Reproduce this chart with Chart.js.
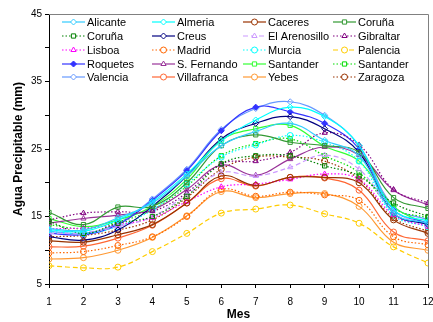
<!DOCTYPE html>
<html>
<head>
<meta charset="utf-8">
<script src="https://cdn.jsdelivr.net/npm/chart.js@4"></script>
<style>
  html, body { margin: 0; padding: 0; background: #fff; }
  #wrap { width: 433px; height: 322px; position: relative; }
</style>
</head>
<body>
<div id="wrap"><canvas id="chart" width="433" height="322"></canvas></div>
<script>
// Months on the x axis
const months = [1, 2, 3, 4, 5, 6, 7, 8, 9, 10, 11, 12];
const yTicks = [5, 15, 25, 35, 45];

// Precipitable water (mm) per station
const alicante     = [13.2, 13.0, 14.8, 17.0, 21.0, 25.5, 27.6, 28.8, 26.3, 24.0, 15.5, 14.0];
const almeria      = [13.0, 12.8, 14.5, 17.2, 21.3, 26.2, 29.3, 31.2, 29.8, 25.5, 16.0, 14.3];
const caceres      = [11.4, 11.2, 12.3, 13.8, 17.0, 21.0, 19.6, 20.8, 20.8, 20.0, 14.5, 12.5];
const coruna       = [15.6, 13.8, 16.4, 16.5, 20.0, 25.5, 27.1, 26.0, 25.5, 24.5, 17.8, 16.2];
const corunaDot    = [14.3, 12.5, 14.0, 15.0, 18.0, 22.8, 24.0, 24.0, 22.5, 21.0, 17.0, 15.0];
const creus        = [12.0, 11.5, 13.0, 16.5, 21.0, 26.5, 28.8, 29.8, 28.0, 24.5, 15.5, 13.8];
const elArenosillo = [12.5, 12.6, 13.5, 15.0, 18.2, 21.5, 21.0, 22.3, 24.1, 22.0, 15.8, 13.8];
const gibraltar    = [14.5, 15.5, 15.7, 15.8, 18.5, 22.8, 23.2, 24.5, 27.4, 25.6, 19.0, 17.0];
const lisboa       = [13.2, 13.3, 13.8, 14.8, 17.2, 19.4, 19.8, 20.5, 21.3, 20.5, 15.2, 13.5];
const madrid       = [9.6, 9.8, 10.7, 12.0, 15.0, 19.0, 18.0, 18.6, 18.2, 17.4, 12.0, 10.8];
const murcia       = [12.8, 12.5, 13.5, 16.0, 19.8, 23.8, 25.6, 27.0, 26.0, 23.2, 15.2, 13.5];
const palencia     = [7.7, 7.4, 7.5, 9.8, 12.5, 15.5, 16.1, 16.7, 15.4, 14.0, 10.5, 8.1];
const roquetes     = [12.5, 12.3, 13.8, 17.4, 21.8, 27.7, 31.2, 30.5, 28.8, 25.0, 16.0, 14.0];
const sFernando    = [14.0, 14.7, 15.2, 16.0, 19.0, 22.6, 21.1, 23.5, 25.3, 24.1, 18.9, 16.7];
const santander    = [14.7, 13.5, 14.5, 16.5, 20.5, 26.3, 28.0, 28.5, 25.4, 23.2, 16.5, 13.8];
const santanderDot = [13.8, 13.2, 14.2, 16.0, 19.5, 24.0, 25.8, 26.5, 24.0, 21.5, 16.2, 14.8];
const valencia     = [12.8, 12.5, 14.0, 17.6, 22.0, 27.9, 31.0, 32.0, 30.0, 25.5, 16.5, 14.5];
const villafranca  = [10.5, 10.6, 11.8, 13.7, 17.0, 20.6, 19.5, 20.8, 20.7, 18.9, 12.7, 11.4];
const yebes        = [8.7, 8.9, 10.0, 11.9, 15.1, 18.7, 17.8, 18.4, 18.4, 16.5, 11.2, 10.0];
const zaragoza     = [12.0, 12.2, 13.0, 14.5, 17.8, 22.0, 23.8, 23.8, 23.2, 20.5, 14.8, 12.8];

const SOLID = [], DOT = [1.5, 2], DASH = [5, 3];

// label, values, colour, dash, marker, filled marker
const series = [
  ['Alicante', alicante, '#33CCFF', SOLID, 'rectRot', false],
  ['Almeria', almeria, '#00FFFF', SOLID, 'rectRot', false],
  ['Caceres', caceres, '#993300', SOLID, 'circle', false],
  ['Coruña', coruna, '#339933', SOLID, 'rect', false],
  ['Coruña', corunaDot, '#008000', DOT, 'rect', false],
  ['Creus', creus, '#000080', SOLID, 'rectRot', false],
  ['El Arenosillo', elArenosillo, '#CC99FF', DASH, 'triangle', false],
  ['Gibraltar', gibraltar, '#800080', DOT, 'triangle', false],
  ['Lisboa', lisboa, '#FF00FF', DOT, 'triangle', false],
  ['Madrid', madrid, '#FF6600', DOT, 'circle', false],
  ['Murcia', murcia, '#00FFFF', DOT, 'circle', false],
  ['Palencia', palencia, '#FFCC00', DASH, 'circle', false],
  ['Roquetes', roquetes, '#3333FF', SOLID, 'rectRot', true],
  ['S. Fernando', sFernando, '#993399', SOLID, 'triangle', false],
  ['Santander', santander, '#33FF33', SOLID, 'rect', false],
  ['Santander', santanderDot, '#00DD00', DOT, 'rect', false],
  ['Valencia', valencia, '#6699FF', SOLID, 'rectRot', false],
  ['Villafranca', villafranca, '#FF6633', SOLID, 'circle', false],
  ['Yebes', yebes, '#FF9933', SOLID, 'circle', false],
  ['Zaragoza', zaragoza, '#993300', DOT, 'circle', false]
];

const datasets = series.map(([label, vals, color, dash, marker, filled]) => ({
  label,
  data: vals.map((v, i) => ({ x: months[i], y: v })),
  borderColor: color,
  backgroundColor: color,
  borderWidth: 1.2,
  borderDash: dash,
  tension: 0.4,
  pointStyle: marker,
  pointRadius: 3,
  pointBorderWidth: 1,
  pointBackgroundColor: filled ? color : 'rgba(255,255,255,0)',
  pointBorderColor: color
}));

// Legend drawn inside the plot area, 4 columns
const insideLegend = {
  id: 'insideLegend',
  afterDatasetsDraw(chart) {
    const ctx = chart.ctx;
    const colX = [62, 152, 243, 333];
    const rowY = [22, 36, 50, 64, 77];
    ctx.save();
    ctx.font = '11px "Liberation Sans", Arial, sans-serif';
    ctx.textBaseline = 'middle';
    ctx.fillStyle = '#000';
    series.forEach(([label, , color, dash, marker, filled], i) => {
      const x = colX[i % 4], y = rowY[Math.floor(i / 4)];
      ctx.strokeStyle = color;
      ctx.lineWidth = 1.2;
      ctx.setLineDash(dash);
      ctx.beginPath();
      ctx.moveTo(x, y);
      ctx.lineTo(x + 23, y);
      ctx.stroke();
      ctx.setLineDash([]);
      ctx.lineWidth = 1;
      ctx.fillStyle = filled ? color : '#fff';
      Chart.helpers.drawPoint(ctx, { pointStyle: marker, radius: 3, rotation: 0, borderWidth: 1 }, x + 11.5, y);
      ctx.fillStyle = '#000';
      ctx.fillText(label, x + 25, y + 0.5);
    });
    ctx.restore();
  },
  afterDraw(chart) {
    const { left, right, top, bottom } = chart.chartArea;
    const ctx = chart.ctx;
    ctx.save();
    ctx.strokeStyle = '#808080';
    ctx.lineWidth = 1;
    ctx.beginPath();
    ctx.moveTo(left, top + 0.5);
    ctx.lineTo(right + 0.5, top + 0.5);
    ctx.lineTo(right + 0.5, bottom);
    ctx.stroke();
    ctx.restore();
  }
};

new Chart(document.getElementById('chart'), {
  type: 'line',
  data: { datasets },
  plugins: [insideLegend],
  options: {
    responsive: false,
    animation: false,
    layout: { padding: { top: 14, right: 5, left: 0, bottom: 0 } },
    plugins: { legend: { display: false }, tooltip: { enabled: false } },
    scales: {
      x: {
        type: 'linear',
        min: 1, max: 12,
        afterFit: s => { s.height = 38; s.paddingLeft = 0; s.paddingRight = 0; },
        ticks: { stepSize: 1, color: '#000', padding: 8,
                 font: { family: '"Liberation Sans", Arial, sans-serif', size: 10 } },
        grid: { drawOnChartArea: false, color: '#000', tickLength: 4 },
        border: { color: '#000', width: 1 },
        title: { display: true, text: 'Mes', color: '#000', padding: { top: 0, bottom: 0 },
                 font: { family: '"Liberation Sans", Arial, sans-serif', size: 12, weight: 'bold' } }
      },
      y: {
        min: 5, max: 45,
        afterFit: s => { s.width = 49; },
        ticks: { stepSize: 5, color: '#000', padding: 3,
                 callback: v => yTicks.includes(v) ? v : '',
                 font: { family: '"Liberation Sans", Arial, sans-serif', size: 10 } },
        grid: { drawOnChartArea: false, color: '#000', tickLength: 4 },
        border: { color: '#000', width: 1 },
        title: { display: true, text: 'Agua Precipitable (mm)', color: '#000', padding: { top: 11, bottom: 0 },
                 font: { family: '"Liberation Sans", Arial, sans-serif', size: 12, weight: 'bold' } }
      }
    }
  }
});
</script>
</body>
</html>
